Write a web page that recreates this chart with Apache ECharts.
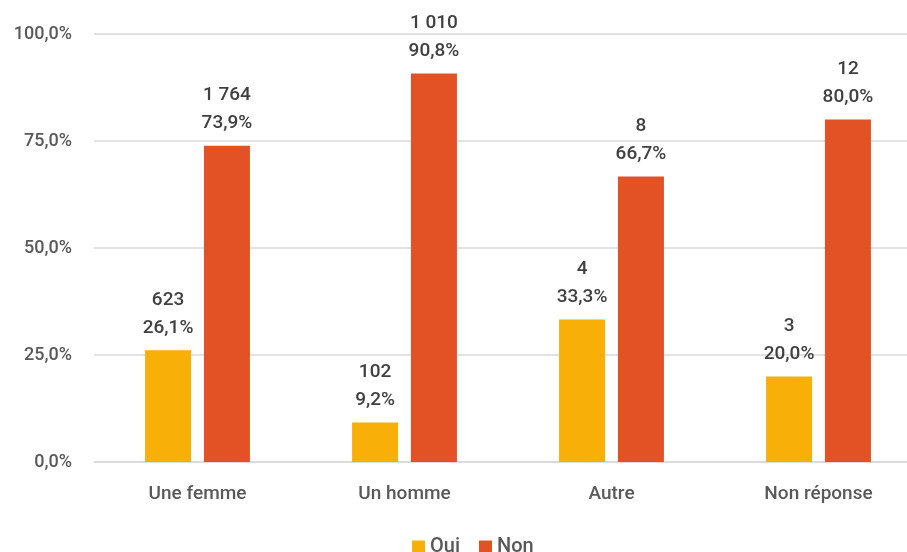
<!DOCTYPE html>
<html>
<head>
<meta charset="utf-8">
<script src="https://cdn.jsdelivr.net/npm/echarts@6/dist/echarts.min.js"></script>
<style>
  html, body { margin: 0; padding: 0; background: #fff; overflow: hidden; }
  #chart { width: 940px; height: 552px; }
</style>
</head>
<body>
<div id="chart"></div>
<script>
// données
var categories = ['Une femme', 'Un homme', 'Autre', 'Non réponse'];
var ouiPct = [26.1, 9.2, 33.3, 20.0];
var nonPct = [73.9, 90.8, 66.7, 80.0];
var ouiCount = [623, 102, 4, 3];
var nonCount = [1764, 1010, 8, 12];
var yTicks = [0, 25, 50, 75, 100];

function fmtNum(n){
	return String(n).replace(/\B(?=(\d{3})+(?!\d))/g, ' ');
}
function fmtPct(v){
	return v.toFixed(1).replace('.', ',') + '%';
}

var myChart = echarts.init(document.getElementById('chart'));
var font = 'Roboto';

function labelFor(counts){
	return {
		show: true,
		position: 'top',
		distance: 8,
		color: '#404040',
		fontFamily: font,
		fontWeight: 500,
		fontSize: 19,
		lineHeight: 28,
		formatter: function(p){
			return fmtNum(counts[p.dataIndex]) + '\n' + fmtPct(p.value);
		}
	};
}

var option = {
	animation: false,
	color: ['#F8B008', '#E35224'],
	grid: { left: 94, width: 828, top: 34, bottom: 90, containLabel: false },
	legend: {
		top: 532,
		left: 407,
		itemWidth: 13,
		itemHeight: 13,
		itemGap: 19,
		icon: 'rect',
		textStyle: { color: '#595959', fontFamily: font, fontWeight: 500, fontSize: 20 },
		data: ['Oui', 'Non']
	},
	xAxis: {
		type: 'category',
		data: categories,
		axisTick: { show: false },
		axisLine: { lineStyle: { color: '#d9d9d9', width: 1.5 } },
		axisLabel: { color: '#595959', fontFamily: font, fontWeight: 500, fontSize: 19, margin: 23 }
	},
	yAxis: {
		type: 'value',
		min: yTicks[0],
		max: yTicks[yTicks.length - 1],
		interval: 25,
		splitLine: { lineStyle: { color: '#d9d9d9', width: 1.5 } },
		axisLabel: {
			color: '#595959', fontFamily: font, fontWeight: 500, fontSize: 18, margin: 22,
			formatter: function(v){ return fmtPct(v); }
		}
	},
	series: [
		{ name: 'Oui', type: 'bar', data: ouiPct, barWidth: 46, barGap: '28%', label: labelFor(ouiCount) },
		{ name: 'Non', type: 'bar', data: nonPct, barWidth: 46, label: labelFor(nonCount) }
	]
};
myChart.setOption(option);
</script>
</body>
</html>
